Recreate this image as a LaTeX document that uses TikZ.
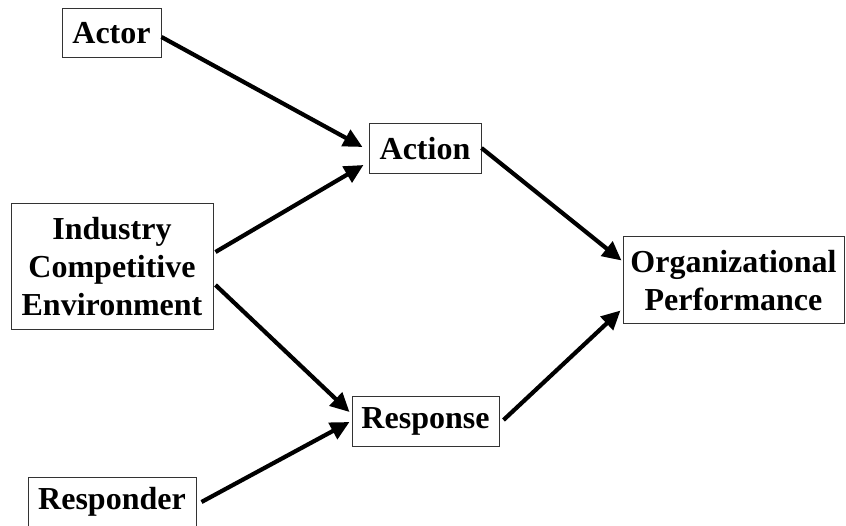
\documentclass[tikz,border=0pt]{standalone}
\usepackage{fontspec}
\setmainfont{Liberation Serif}
\usetikzlibrary{arrows.meta}
\begin{document}
\begin{tikzpicture}[x=1pt,y=-1pt,
  box/.style={draw=black!80, line width=1pt, inner sep=0pt, align=center,
    font=\fontsize{32}{38}\selectfont\bfseries},
  conn/.style={line width=4.2pt, -{Triangle[length=19pt,width=18pt]}}]
\useasboundingbox (0,0) rectangle (846,526);
\node[box, minimum width=99pt, minimum height=49pt] (actor) at (111.5,33.5) {Actor};
\node[box, minimum width=112pt, minimum height=50pt] (action) at (425,149) {Action};
\node[box, minimum width=202pt, minimum height=126pt] (ind) at (112,267) {Industry\\Competitive\\Environment};
\node[box, minimum width=221pt, minimum height=87pt] (org) at (733.5,280.5) {Organizational\\Performance};
\node[box, minimum width=147pt, minimum height=49pt] (resp) at (425.5,421.5) {Response};
\node[box, minimum width=168pt, minimum height=50pt] (respd) at (112,502) {Responder};
\draw[conn] ([yshift=-3.5pt]actor.east) -- ([xshift=-6pt,yshift=2pt]action.west);
\draw[conn] ([xshift=2pt,yshift=15pt]ind.east) -- ([xshift=-5pt,yshift=-16pt]action.west);
\draw[conn] ([yshift=1pt]action.east) -- ([xshift=-1pt,yshift=20pt]org.west);
\draw[conn] ([xshift=2pt,yshift=-18pt]ind.east) -- ([xshift=-2pt,yshift=9.5pt]resp.west);
\draw[conn] ([xshift=5pt]respd.east) -- ([xshift=-2pt,yshift=-0.5pt]resp.west);
\draw[conn] ([xshift=4pt,yshift=1.5pt]resp.east) -- ([xshift=-2pt,yshift=-30pt]org.west);
\end{tikzpicture}
\end{document}
